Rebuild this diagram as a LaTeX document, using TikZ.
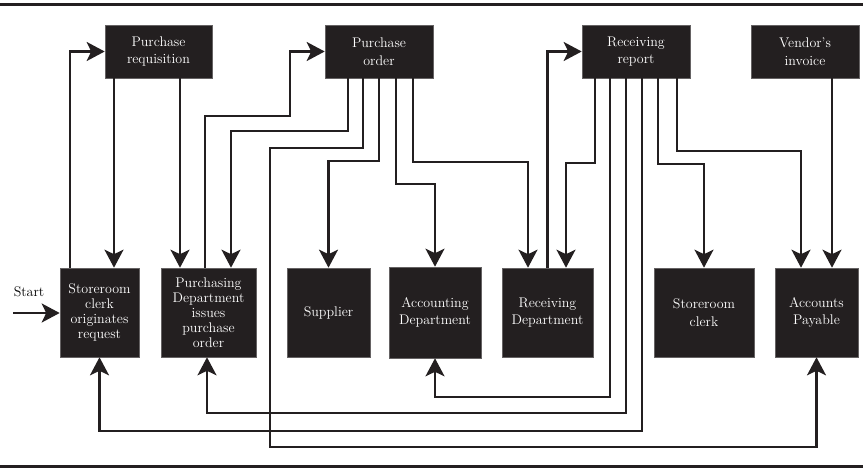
\documentclass[tikz,border=0pt]{standalone}
\usetikzlibrary{arrows.meta}
\definecolor{ink}{HTML}{231F20}
\begin{document}
\begin{tikzpicture}[x=1pt,y=-1pt,
  box/.style={fill=ink, draw=ink!70, line width=0.6pt, text=white, align=center,
    inner sep=1pt, font=\fontsize{14}{17.5}\selectfont},
  topbox/.style={box, minimum width=108pt, minimum height=53pt},
  lowbox/.style={box, minimum height=89pt},
  tight/.style={font=\fontsize{14}{15}\selectfont},
  conn/.style={draw=ink, line width=2.2pt},
  arr/.style={conn, -{Stealth[length=18pt,width=19pt,inset=4.5pt]}},
  rule/.style={draw=ink, line width=2.6pt}]
\useasboundingbox (0,0) rectangle (863,468);
% rules
\coordinate (rl1) at (0,4.5); \coordinate (rr1) at (863,4.5);
\coordinate (rl2) at (0,466.5); \coordinate (rr2) at (863,466.5);
\draw[rule] (rl1) -- (rr1);
\draw[rule, line width=2.2pt] (rl2) -- (rr2);
% top boxes
\node[topbox, minimum width=107pt] (PR) at (158.5,51.5) {Purchase\\requisition};
\node[topbox] (PO) at (379,51.5) {Purchase\\order};
\node[topbox] (RR) at (636,51.5) {Receiving\\report};
\node[topbox] (VI) at (805,51.5) {Vendor’s\\invoice};
% lower boxes
\node[lowbox, tight, minimum width=79pt] (SC) at (99.5,312.5) {Storeroom\\clerk\\originates\\request};
\node[lowbox, tight, minimum width=95pt] (PD) at (208.5,312.5) {Purchasing\\Department\\issues\\purchase\\order};
\node[lowbox, minimum width=83pt] (SUP) at (328.5,312.5) {Supplier};
\node[lowbox, minimum width=92pt, minimum height=91pt] (AD) at (435,312.5) {Accounting\\Department};
\node[lowbox, minimum width=91pt] (RD) at (547.5,312.5) {Receiving\\Department};
\node[lowbox, minimum width=100pt] (SC2) at (704,312.5) {Storeroom\\clerk};
\node[lowbox, minimum width=83pt] (AP) at (816.5,312.5) {Accounts\\Payable};
% start
\node[font=\fontsize{14}{17}\selectfont, inner sep=0pt] (startlbl) at (29,292) {Start};
\coordinate (start) at (13,313);
\draw[arr] (start) -- (start -| SC.west);
% bend coordinates
\coordinate (b1) at (290,116);
\coordinate (b2) at (231,131);
\coordinate (b3) at (270,148);
\coordinate (b4) at (270,447);
% connectors
\draw[arr] ([xshift=-29.5pt]SC.north) |- (PR.west);
\draw[arr] ([xshift=-44.5pt]PR.south) -- ([xshift=-44.5pt]PR.south |- SC.north);
\draw[arr] ([xshift=21.5pt]PR.south) -- ([xshift=21.5pt]PR.south |- PD.north);
\draw[arr] ([xshift=-3.5pt]PD.north) |- (b1) |- (PO.west);
\draw[arr] ([xshift=-31pt]PO.south) |- (b2) -- (b2 |- PD.north);
\draw[arr] ([xshift=-16pt]PO.south) |- (b3) -- (b4) -| (AP.south);
\draw[arr] (PO.south) -- ++(0,83) -| (SUP.north);
\draw[arr] ([xshift=17pt]PO.south) -- ++(0,106) -| (AD.north);
\draw[arr] ([xshift=34pt]PO.south) -- ++(0,84) -| ([xshift=-19.5pt]RD.north);
\draw[arr] (RD.north) |- (RR.west);
\draw[arr] ([xshift=-41pt]RR.south) -- ++(0,85) -| ([xshift=18.5pt]RD.north);
\draw[arr] ([xshift=-26pt]RR.south) -- ++(0,319) -| (AD.south);
\draw[arr] ([xshift=-10pt]RR.south) -- ++(0,335) -| ([xshift=-1.5pt]PD.south);
\draw[arr] ([xshift=6pt]RR.south) -- ++(0,353) -| (SC.south);
\draw[arr] ([xshift=22pt]RR.south) -- ++(0,86) -| (SC2.north);
\draw[arr] ([xshift=41pt]RR.south) -- ++(0,73) -| ([xshift=-15.5pt]AP.north);
\draw[arr] ([xshift=27pt]VI.south) -- ([xshift=27pt]VI.south |- AP.north);
\end{tikzpicture}
\end{document}
